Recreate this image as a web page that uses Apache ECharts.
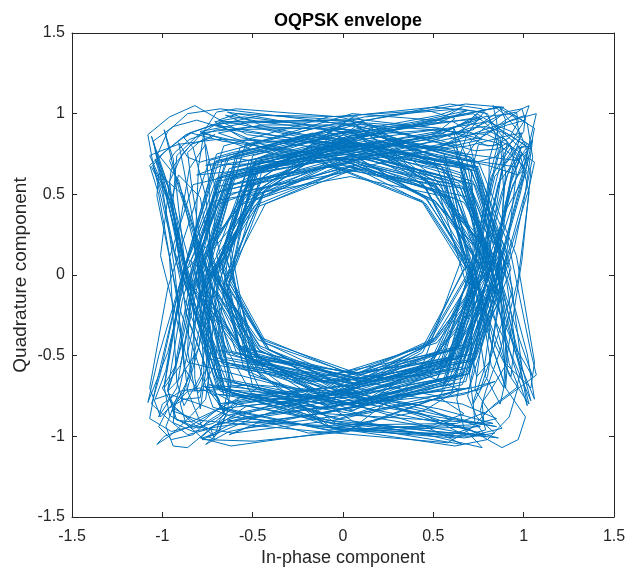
<!DOCTYPE html>
<html>
<head>
<meta charset="utf-8">
<script src="https://cdn.jsdelivr.net/npm/echarts@6/dist/echarts.min.js"></script>
<style>
html, body { margin: 0; padding: 0; background: #ffffff; }
#chart { width: 626px; height: 569px; }
</style>
</head>
<body>
<div id="chart"></div>
<script>
// In-phase samples, 4 per symbol
const inPhase = [
-.95,-.80,-.14,.58, .71,.83,.96,.99, .92,.74,.20,-.49, -.64,-.55,.08,.70,
.88,1.02,1.06,.93, .78,.61,-.03,-.63, -.81,-.66,.11,.52, .67,.50,-.19,-.72,
-.90,-1.03,-1.02,-.89, -.73,-.62,-.64,-.70, -.76,-.63,-.06,.66, .85,.69,.13,-.55,
-.70,-.79,-.88,-.92, -.96,-.83,-.24,.47, .62,.47,-.08,-.66, -.83,-.72,.02,.61,
.77,.58,-.17,-.74, -.97,-1.07,-1.01,-.86, -.68,-.53,.07,.69, .90,.99,.95,.84,
.74,.66,.15,-.52, -.66,-.48,.21,.73, .93,.75,-.04,-.60, -.79,-.91,-.98,-.94,
-.86,-.71,-.12,.56, .72,.60,.03,-.64, -.80,-.67,.10,.58, .76,.88,1.00,1.03,
.99,.81,.23,-.45, -.61,-.52,.05,.68, .87,.70,-.09,-.71, -.89,-.97,-.93,-.80,
-.69,-.57,.00,.62, .80,.65,.16,-.50, -.65,-.46,.19,.75, .96,1.06,1.04,.90,
.75,.64,.61,.68, .81,.70,.18,-.48, -.63,-.54,.06,.67, .84,.71,-.07,-.69,
-.86,-.70,.09,.54, .70,.79,.87,.90, .86,.72,.14,-.53, -.69,-.58,.02,.63,
.81,.63,-.13,-.72, -.92,-1.05,-1.08,-.96, -.82,-.68,-.13,.55, .71,.56,-.02,-.65,
-.84,-.69,.08,.57, .74,.90,1.01,.97, .88,.69,.06,-.60, -.78,-.61,.12,.64,
.83,.66,-.10,-.62, -.77,-.84,-.86,-.79, -.71,-.73,-.84,-.95, -1.01,-.86,-.26,.44,
.60,.49,-.05,-.67, -.87,-.71,.04,.59, .76,.61,-.11,-.68, -.88,-1.00,-1.04,-.91,
-.75,-.62,-.04,.62, .80,.92,.97,.92, .82,.67,.11,-.55, -.71,-.56,.14,.70,
.91,.73,-.06,-.64, -.82,-.63,.07,.56, .73,.70,.72,.80, .89,.73,.19,-.47,
-.62,-.49,.10,.71, .92,1.04,1.07,.95, .79,.63,.00,-.63, -.80,-.65,.13,.53,
.68,.52,-.15,-.70, -.90,-.96,-.89,-.77, -.70,-.59,-.02,.61, .78,.64,.12,-.52,
-.67,-.50,.17,.72, .94,.76,-.05,-.61, -.81,-.94,-1.00,-.93, -.84,-.68,-.10,.57,
.74,.62,.04,-.63, -.79,-.64,.09,.59, .77,.86,.95,1.00, .97,.80,.21,-.46,
-.62,-.51,.07,.69, .88,.72,-.08,-.70, -.90,-.99,-.96,-.83, -.72,-.58,.01,.63,
.81,.66,.15,-.51, -.66,-.47,.18,.74, .95,1.05,1.02,.88, .76,.65,.13,-.53,
-.70,-.56,.06,.66, .85,.70,-.08,-.68, -.87,-.95,-.91,-.79, -.70,-.63,-.66,-.74,
-.80,-.67,-.11,.58, .75,.60,.02,-.62, -.79,-.64,.10,.58, .76,.89,1.00,1.01,
.93,.76,.22,-.46, -.63,-.52,.06,.68, .86,.70,-.09,-.70, -.90,-1.01,-1.06,-.95,
-.83,-.69,-.12,.55, .71,.57,-.01,-.64, -.82,-.67,.08,.57, .75,.82,.86,.84,
.80,.65,.12,-.54, -.70,-.57,.04,.64, .82,.65,-.12,-.71, -.91,-1.04,-1.07,-.95,
-.80,-.66,-.09,.58, .77,.91,.99,.94, .84,.68,.09,-.57, -.74,-.59,.13,.68,
.89,.72,-.06,-.63, -.81,-.64,.08,.56, .72,.71,.74,.81, .90,.74,.18,-.48,
-.63,-.50,.09,.70, .91,1.03,1.06,.94, .80,.50,.02,-.47, -.74,-.46,.06,.49,
.77,.88,.98,.96, .86,.52,-.05,-.44, -.66,-.41,.10,.53, .83,.66,-.09,-.66,
-.84,-.97,-1.04,-.97, -.88,-.56,-.07,.43, .68,.44,-.11,-.51, -.79,-.50,.04,.45,
.72,.84,.93,.95, .89,.71,.16,-.50, -.65,-.43,.08,.52, .85,.50,-.03,-.46,
-.73,-.70,-.76,-.85, -.93,-.74,-.17,.46, .64,.45,-.06,-.49, -.77,-.48,.05,.47,
.78,.97,1.07,.99, .83,.51,.03,-.45, -.69,-.44,.07,.50, .81,.64,-.08,-.68,
-.87,-.94,-.92,-.81, -.71,-.45,.02,.48, .75,.47,-.04,-.47, -.74,-.59,.11,.66,
.88,1.00,1.03,.92, .79,.68,.63,.67, .77,.50,.06,-.44, -.67,-.43,.08,.51,
.84,.52,-.06,-.48, -.76,-.87,-.96,-.93, -.85,-.70,-.12,.54, .70,.45,-.02,-.48,
-.75,-.47,.06,.46, .72,.80,.87,.89, .86,.53,.04,-.43, -.64,-.41,.09,.53,
.87,.70,-.07,-.69, -.90,-1.02,-1.08,-.97, -.86,-.55,-.08,.44, .66,.43,-.09,-.50,
-.78,-.49,.03,.46, .74,.91,1.02,.97, .85,.52,.04,-.45, -.68,-.44,.07,.51,
.82,.65,-.10,-.67, -.83,-.82,-.79,-.75, -.73,-.46,.03,.48, .77,.48,-.05,-.46,
-.71,-.57,.12,.67, .90,1.01,1.05,.94, .81,.51,.05,-.45, -.69,-.44,.08,.50,
.83,.51,-.05,-.47, -.77,-.90,-.99,-.95, -.87,-.71,-.13,.52, .69,.45,-.03,-.48,
-.76,-.48,.05,.46, .73,.83,.90,.91, .87,.54,.05,-.43, -.63,-.41,.09,.52,
.86,.69,-.08,-.68, -.88,-1.00,-1.05,-.95, -.85,-.55,-.07,.44, .67,.44,-.10,-.51,
-.79,-.50,.04,.46, .75,.94,1.05,.98, .84,.52,.03,-.45, -.70,-.45,.06,.49,
.80,.63,-.09,-.67, -.84,-.88,-.83,-.76, -.72,-.46,.02,.48, .76,.48,-.04,-.47,
-.73,-.58,.11,.66, .89,.99,1.02,.93, .80,.70,.64,.69, .78,.50,.07,-.44,
-.66,-.43,.08,.51, .85,.52,-.06,-.48, -.75,-.85,-.94,-.92, -.84,-.69,-.12,.54,
.71,.46,-.02,-.48, -.74,-.47,.06,.47, .73,.81,.88,.90, .87,.53,.04,-.44,
-.65,-.42,.09,.53, .88,.71,-.07,-.70, -.91,-1.03,-1.07,-.96, -.87,-.56,-.08,.44,
.65,.43,-.09,-.50, -.77,-.49,.03,.46, .75,.92,1.03,.96, .84,.51,.04,-.45,
-.69,-.45,.07,.50, .81,.64,-.09,-.67, -.82,-.80,-.77,-.74, -.74,-.47,.03,.48,
.78,.49,-.05,-.46, -.70,-.56,.12,.67, .91,1.02,1.06,.95, .82,.51,.05,-.45,
-.70,-.45,.08,.50, .84,.52,-.05,-.47, -.78,-.91,-.99,-.94, -.86,-.70,-.13,.52,
.70,.46,-.03,-.48, -.75,-.48,.05,.46, .72,.82,.89,.90, .86,.53,.05,-.43,
-.64,-.42,.09,.52, .87,.70,-.08,-.69, -.89,-1.01,-1.06,-.96, -.86,-.55,-.07,.44,
.66,.44,-.10,-.51, -.80,-.51,.04,.46, .74,.93,1.04,.97, .85,.70,.66,.72,
.79,.91,1.01,.99, .90,.78,.70,.74, .83,.66,.09,-.58, -.74,-.83,-.95,-1.02,
-.97,-.88,-.79,-.77, -.80,-.62,-.05,.55, .69,.76,.90,.98, .96,.77,.14,-.50,
-.68,-.74,-.82,-.86, -.84,-.95,-1.03,-.97, -.86,-.68,-.10,.52, .73,.85,.91,.88,
.80,.72,.69,.74, .84,.67,.07,-.59, -.76,-.50,.04,.47, .71,.84,.97,1.04,
.99,.90,.82,.77, .78,.60,.02,-.62, -.83,-.98,-1.06,-.99, -.87,-.69,-.13,.50,
.65,.52,-.04,-.60, -.78,-.85,-.90,-.87, -.78,-.69,-.65,-.70, -.77,-.60,-.03,.59,
.79,.94,1.03,.98, .85,.76,.73,.80, .88,.70,.12,-.52, -.69,-.45,.05,.48,
.72,.81,.86,.85, .83,.89,.98,1.02, .96,.75,.17,-.47, -.64,-.71,-.80,-.88,
-.93,-1.01,-1.05,-.94, -.81,-.63,-.08,.57, .77,.61,.05,-.57, -.72,-.80,-.91,-.97,
-.93,-.82,-.73,-.71, -.75,-.58,.02,.62, .81,.93,.99,.93, .85,.68,.11,-.54,
-.70,-.66,-.69,-.79, -.90,-1.00,-1.02,-.92, -.83,-.66,-.09,.55, .74,.87,.96,.97,
.92,.83,.75,.71, .74,.57,.00,-.61, -.80,-.49,.06,.46, .70,.79,.92,1.01,
1.04,.96,.86,.81, .80,.63,.08,-.56, -.73,-.87,-.99,-1.03, -.95,-.84,-.76,-.74,
-.78,-.61,-.04,.58, .76,.60,.07,-.60, -.81,-.92,-.97,-.90, -.80,-.63,-.09,.54,
.71,.74,.83,.92, .98,1.04,1.00,.88, .77,.61,.06,-.58, -.76,-.86,-.94,-.93,
-.86,-.67,-.11,.53, .70,.82,.93,.96, .90,.71,.13,-.53, -.69,-.71,-.78,-.86,
-.92,-1.02,-1.07,-.98, -.85,-.67,-.10,.54, .72,.80,.88,.90, .86,.78,.72,.73,
.79,.62,.05,-.58, -.74,-.48,.05,.48, .73,.86,.98,1.03, .97,.87,.79,.76,
.79,.62,.03,-.61, -.82,-.96,-1.04,-.98, -.88,-.70,-.12,.51, .66,.53,-.05,-.61,
-.79,-.86,-.91,-.88, -.79,-.70,-.66,-.71, -.78,-.61,-.03,.58, .80,.93,1.02,.97
];

// Quadrature samples, half a symbol behind the in-phase channel
const quadrature = [
-.84,-.90,
-.97,-1.04,-.95,-.81, -.70,-.57,.04,.64, .86,.70,-.10,-.58, -.74,-.61,.12,.69,
.91,1.00,.98,.87, .79,.66,.16,-.51, -.66,-.75,-.86,-.93, -.98,-.82,-.22,.49,
.63,.50,-.06,-.67, -.85,-.99,-1.05,-.97, -.84,-.68,-.09,.57, .73,.58,.03,-.63,
-.81,-.66,.11,.56, .72,.84,.97,1.02, .98,.80,.22,-.46, -.62,-.51,.06,.69,
.88,.71,-.08,-.70, -.88,-.70,.05,.55, .71,.80,.86,.88, .84,.73,.70,.76,
.87,.71,.16,-.50, -.64,-.53,.04,.66, .82,.67,-.13,-.73, -.94,-1.06,-1.07,-.93,
-.79,-.64,-.05,.60, .76,.61,.12,-.54, -.68,-.52,.18,.73, .95,1.05,1.03,.89,
.77,.64,.01,-.62, -.80,-.66,.12,.53, .67,.51,-.16,-.71, -.89,-.95,-.88,-.76,
-.69,-.58,-.02,.62, .79,.92,.99,.95, .86,.70,.12,-.54, -.70,-.55,.15,.71,
.92,.74,-.05,-.61, -.80,-.92,-.99,-.95, -.86,-.74,-.66,-.70, -.79,-.65,-.10,.58,
.75,.62,.03,-.63, -.80,-.65,.09,.58, .77,.87,.96,1.00, .96,.79,.21,-.46,
-.63,-.51,.07,.68, .87,.98,1.05,.96, .83,.67,-.07,-.68, -.89,-.72,.09,.55,
.70,.55,-.14,-.70, -.88,-1.02,-1.07,-.95, -.81,-.67,-.12,.56, .72,.57,-.01,-.64,
-.83,-.68,.08,.57, .76,.83,.87,.85, .81,.66,.12,-.54, -.71,-.81,-.90,-.95,
-.97,-.83,-.24,.46, .61,.48,-.07,-.67, -.86,-.71,.03,.60, .77,.59,-.16,-.73,
-.95,-1.06,-1.02,-.88, -.69,-.55,.07,.68, .89,.98,.95,.85, .75,.66,.14,-.52,
-.67,-.49,.20,.73, .93,.75,-.04,-.61, -.80,-.63,.08,.56, .72,.70,.73,.81,
.90,.73,.18,-.48, -.62,-.72,-.85,-.92, -.93,-.79,-.20,.50, .66,.52,-.05,-.66,
-.84,-.69,.06,.58, .75,.89,1.01,1.03, .98,.80,.22,-.45, -.61,-.52,.05,.68,
.87,.70,-.09,-.71, -.90,-.98,-.94,-.81, -.70,-.57,.00,.62, .80,.65,.15,-.50,
-.65,-.47,.19,.74, .95,1.06,1.03,.89, .76,.65,.62,.68, .82,.70,.17,-.49,
-.64,-.54,.06,.67, .85,.71,-.07,-.69, -.87,-.95,-.92,-.80, -.71,-.58,.01,.63,
.81,.65,.15,-.51, -.66,-.48,.18,.73, .94,1.04,1.02,.88, .77,.65,.13,-.53,
-.70,-.80,-.89,-.93, -.96,-.82,-.23,.47, .62,.48,-.08,-.66, -.84,-.72,.02,.61,
.78,.59,-.16,-.73, -.96,-1.06,-1.01,-.87, -.69,-.54,.07,.69, .89,.99,.96,.85,
.75,.66,.15,-.52, -.67,-.49,.21,.73, .93,.75,-.04,-.61, -.80,-.91,-.97,-.94,
-.86,-.71,-.12,.57, .73,.60,.03,-.64, -.81,-.67,.10,.58, .77,.88,1.00,1.03,
.98,.81,.23,-.45, -.61,-.52,.05,.68, .86,.70,-.09,-.71, -.89,-.97,-.93,-.80,
-.70,-.57,.00,.62, .80,.64,.16,-.50, -.66,-.46,.19,.75, .96,1.06,1.04,.90,
.75,.64,.62,.69, .82,.70,.18,-.48, -.63,-.54,.06,.67, .84,.71,-.07,-.69,
-.86,-.70,.09,.54, .70,.79,.87,.90, .86,.53,.04,-.44, -.67,-.42,.08,.52,
.85,.97,1.04,.96, .82,.51,-.04,-.46, -.74,-.83,-.92,-.91, -.86,-.70,-.11,.55,
.72,.46,-.03,-.49, -.77,-.47,.05,.46, .70,.81,.88,.92, .90,.55,.05,-.43,
-.63,-.40,.09,.53, .93,.74,-.08,-.61, -.79,-.88,-.94,-.86, -.72,-.45,.04,.50,
.81,.66,.14,-.52, -.66,-.62,-.71,-.84, -.95,-.58,-.09,.42, .65,.77,.90,.97,
1.00,.62,.06,-.41, -.61,-.39,.10,.55, .92,.72,-.10,-.63, -.82,-.52,.03,.47,
.74,.86,.93,.88, .78,.69,.67,.73, .84,.51,-.02,-.48, -.78,-.62,.13,.64,
.80,.49,-.05,-.47, -.77,-.95,-1.07,-1.00, -.91,-.56,-.08,.44, .69,.55,-.10,-.62,
-.80,-.49,.06,.45, .71,.76,.84,.90, .91,.57,.03,-.45, -.68,-.57,.13,.66,
.84,.95,1.00,.93, .85,.52,-.05,-.47, -.72,-.82,-.90,-.92, -.94,-.76,-.16,.48,
.68,.44,-.04,-.50, -.79,-.48,.04,.45, .70,.57,.11,-.59, -.73,-.89,-1.02,-1.03,
-.97,-.60,-.10,.42, .64,.71,.82,.91, .97,.60,.05,-.42, -.62,-.40,.09,.54,
.89,.71,-.09,-.64, -.83,-.52,.03,.47, .73,.87,.97,.94, .87,.53,.04,-.44,
-.66,-.43,.08,.52, .84,.67,-.11,-.66, -.84,-.78,-.74,-.76, -.81,-.51,-.04,.46,
.74,.59,.12,-.56, -.70,-.44,.06,.50, .82,.94,1.02,.96, .86,.75,.68,.69,
.75,.47,.03,-.46, -.70,-.55,.14,.68, .87,.53,-.05,-.46, -.75,-.91,-1.01,-.99,
-.90,-.72,-.14,.50, .67,.44,-.04,-.49, -.78,-.48,.04,.45, .69,.78,.89,.95,
.96,.59,.06,-.42, -.63,-.41,.09,.54, .90,.73,-.09,-.64, -.84,-.53,.03,.47,
.74,.83,.88,.85, .79,.49,.02,-.47, -.72,-.84,-.94,-.95, -.92,-.57,-.08,.43,
.68,.55,-.11,-.62, -.81,-.50,.06,.45, .72,.88,1.01,1.04, .99,.61,.06,-.41,
-.61,-.39,.10,.55, .91,.72,-.10,-.63, -.83,-.90,-.91,-.83, -.76,-.47,.03,.48,
.79,.64,.13,-.54, -.68,-.43,.07,.51, .83,.96,1.04,.97, .86,.52,-.04,-.46,
-.73,-.58,.12,.65, .82,.84,.81,.76, .74,.47,.03,-.46, -.72,-.86,-.98,-.98,
-.94,-.58,-.09,.43, .67,.54,-.10,-.62, -.80,-.50,.05,.45, .70,.79,.88,.93,
.93,.58,.04,-.44, -.66,-.55,.13,.67, .88,.54,-.05,-.46, -.74,-.88,-.99,-.97,
-.89,-.71,-.13,.51, .69,.45,-.03,-.49, -.77,-.47,.05,.46, .71,.81,.93,.99,
.98,.61,.06,-.42, -.62,-.40,.09,.54, .90,.72,-.09,-.63, -.82,-.75,-.70,-.73,
-.80,-.50,-.03,.47, .75,.60,.12,-.56, -.70,-.44,.06,.50, .81,.92,1.01,.97,
.87,.53,.04,-.44, -.67,-.56,.14,.67, .86,.53,-.05,-.46, -.76,-.93,-1.05,-1.01,
-.91,-.73,-.14,.49, .68,.44,-.04,-.49, -.78,-.48,.04,.45, .70,.80,.88,.93,
.96,1.03,1.01,.91, .82,.64,.08,-.57, -.73,-.79,-.90,-.99, -1.02,-.94,-.83,-.77,
-.76,-.59,-.02,.60, .79,.88,.95,.92, .84,.73,.67,.70, .79,.64,.10,-.55,
-.72,-.47,.04,.49, .74,.89,1.00,1.03, .95,.84,.77,.78, .82,.65,.06,-.58,
-.75,-.88,-.98,-1.01, -.93,-.80,-.70,-.68, -.73,-.57,.01,.61, .80,.64,.09,-.56,
-.71,-.79,-.92,-.99, -.95,-.73,-.15,.49, .67,.76,.87,.94, .95,.90,.83,.79,
.80,.62,.04,-.60, -.80,-.92,-1.01,-.98, -.87,-.75,-.69,-.72, -.81,-.64,-.07,.56,
.74,.50,-.02,-.47, -.71,-.83,-.95,-1.00, -.97,-.89,-.80,-.75, -.76,-.58,.03,.61,
.82,.96,1.05,1.00, .88,.77,.71,.74, .83,.66,.09,-.56, -.73,-.57,.02,.62,
.83,.92,.96,.90, .82,.79,.84,.95, 1.00,.79,.18,-.46, -.65,-.72,-.83,-.91,
-.96,-1.02,-1.00,-.90, -.80,-.62,-.06,.57, .75,.59,.03,-.60, -.79,-.88,-.93,-.86,
-.76,-.70,-.72,-.80, -.88,-.70,-.12,.52, .70,.80,.92,.99, 1.01,.95,.85,.80,
.81,.64,.07,-.57, -.75,-.49,.05,.47, .71,.82,.91,.92, .87,.80,.78,.84,
.91,.72,.14,-.52, -.68,-.75,-.86,-.95, -1.00,-1.05,-.99,-.87, -.77,-.60,-.02,.59,
.78,.90,.98,.95, .87,.69,.10,-.55, -.72,-.46,.04,.49, .75,.87,.97,1.00,
.94,.85,.79,.80, .83,.66,.07,-.57, -.74,-.86,-.96,-.99, -.92,-.80,-.72,-.71,
-.75,-.58,.02,.61, .79,.63,.08,-.57, -.72,-.81,-.93,-1.00, -.94,-.72,-.14,.50,
.68,.77,.88,.95, .96,.91,.84,.80, .81,.63,.05,-.59, -.79,-.91,-1.00,-.97,
-.86,-.74,-.68,-.71, -.80,-.63,-.06,.57, .75,.51,-.02,-.47, -.72,-.84,-.96,-1.01,
-.96,-.88,-.79,-.74, -.77,-.59,.03,.60, .81,.95,1.04,.99, .87,.76,.70,.73,
.82,.65,.08,-.57, -.74,-.58,.02,.61, .82,.91,.95,.89, .81,.78,.83,.94
];

// Axis tick positions shared by both axes
const tickValues = [-1.5, -1, -0.5, 0, 0.5, 1, 1.5];
const titleText = 'OQPSK envelope';
const xName = 'In-phase component';
const yName = 'Quadrature component';

const count = Math.min(inPhase.length, quadrature.length);
const trajectory = [];
for (let i = 0; i < count; i++) {
  trajectory.push([inPhase[i], quadrature[i]]);
}

const axisColor = '#262626';
const fontFamily = '"Liberation Sans", Arial, Helvetica, sans-serif';
const axisMin = tickValues[0];
const axisMax = tickValues[tickValues.length - 1];
const step = tickValues[1] - tickValues[0];

function makeAxis(position, withLabels, name, nameGap, nameSize, labelMargin) {
  return {
    type: 'value',
    position: position,
    min: axisMin,
    max: axisMax,
    interval: step,
    name: name || '',
    nameLocation: 'middle',
    nameGap: nameGap || 0,
    nameMoveOverlap: false,
    nameTextStyle: { color: axisColor, fontSize: nameSize || 18, fontFamily: fontFamily },
    axisLine: { show: true, onZero: false, lineStyle: { color: axisColor, width: 1 } },
    axisTick: { show: true, inside: true, length: 5, lineStyle: { color: axisColor, width: 1 } },
    axisLabel: {
      show: withLabels,
      color: axisColor,
      fontSize: 16,
      fontFamily: fontFamily,
      margin: labelMargin || 7
    },
    splitLine: { show: false }
  };
}

const chart = echarts.init(document.getElementById('chart'), null, { renderer: 'canvas' });
chart.setOption({
  animation: false,
  backgroundColor: '#ffffff',
  title: {
    text: titleText,
    left: 343,
    top: 7,
    textAlign: 'center',
    textStyle: { color: '#000000', fontSize: 18, fontWeight: 'bold', fontFamily: fontFamily }
  },
  grid: {
    left: 72, right: 12, top: 33, bottom: 52,
    containLabel: false,
    outerBoundsMode: 'none'
  },
  xAxis: [
    makeAxis('bottom', true, xName, 32, 18, 12),
    makeAxis('top', false)
  ],
  yAxis: [
    makeAxis('left', true, yName, 42, 19, 7),
    makeAxis('right', false)
  ],
  series: [{
    type: 'line',
    xAxisIndex: 0,
    yAxisIndex: 0,
    data: trajectory,
    showSymbol: false,
    symbol: 'none',
    smooth: false,
    sampling: null,
    lineStyle: { color: '#0072BD', width: 1 },
    z: 1
  }]
});
</script>
</body>
</html>
